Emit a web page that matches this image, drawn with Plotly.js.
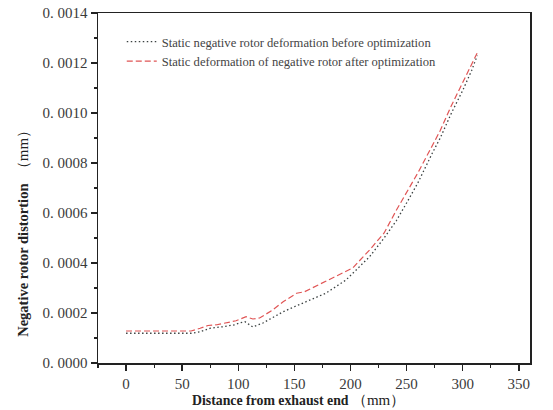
<!DOCTYPE html>
<html>
<head>
<meta charset="utf-8">
<script src="https://cdn.plot.ly/plotly-3.0.1.min.js"></script>
<style>html,body{margin:0;padding:0;background:#fff;}#chart{width:553px;height:410px;}</style>
</head>
<body>
<div id="chart"></div>
<script>
// Before optimization (dotted black)
const xBefore = [0, 10, 20, 30, 40, 50, 58, 66, 75, 86, 97, 101, 106, 113, 122, 130, 140, 150, 161, 178, 196, 217, 230, 241, 250, 260, 273, 280, 290, 300, 308, 313];
const yBefore = [0.000119, 0.000119, 0.000119, 0.000119, 0.000119, 0.000119, 0.000119, 0.000125, 0.000139, 0.000145, 0.000153, 0.00016, 0.000165, 0.000144, 0.00016, 0.00018, 0.000205, 0.000225, 0.000245, 0.000279, 0.000332, 0.000425, 0.0005, 0.00057, 0.00064, 0.00072, 0.00084, 0.0009, 0.001, 0.00109, 0.00117, 0.00123];
// After optimization (dashed red)
const xAfter = [0, 10, 20, 30, 40, 50, 58, 66, 73, 81, 90, 98, 107, 113, 119, 130, 140, 152, 159, 175, 190, 202, 217, 230, 241, 250, 260, 273, 280, 290, 300, 308, 314];
const yAfter = [0.000128, 0.000128, 0.000128, 0.000128, 0.000128, 0.000128, 0.000128, 0.000139, 0.00015, 0.000153, 0.000161, 0.000169, 0.000185, 0.000176, 0.00018, 0.00021, 0.000245, 0.000279, 0.000285, 0.00032, 0.000352, 0.00038, 0.000452, 0.00052, 0.000612, 0.00068, 0.00076, 0.00087, 0.00093, 0.00103, 0.00112, 0.00119, 0.00125];

const seriesNames = ["Static negative rotor deformation before optimization", "Static deformation of negative rotor after optimization"];
const xTickVals = [0, 50, 100, 150, 200, 250, 300, 350];
const yTickVals = [0, 0.0002, 0.0004, 0.0006, 0.0008, 0.0010, 0.0012, 0.0014];
const yTickText = ["0. 0000", "0. 0002", "0. 0004", "0. 0006", "0. 0008", "0. 0010", "0. 0012", "0. 0014"];
const unitText = "<span style='font-weight:normal;font-size:15px'>（mm）</span>";
const xTitle = "Distance from exhaust end " + unitText;
const yTitle = "Negative rotor distortion  " + unitText;

const serif = "Liberation Serif, DejaVu Serif, serif";
const traces = [
  {x: xBefore, y: yBefore, name: seriesNames[0], mode: "lines",
   line: {color: "#3c4242", width: 1.3, dash: "1.5px,2.5px"}},
  {x: xAfter, y: yAfter, name: seriesNames[1], mode: "lines",
   line: {color: "#e05555", width: 1.2, dash: "6px,3px"}}
];
const axisCommon = {
  showgrid: false, zeroline: false, showline: true, linecolor: "#222", linewidth: 1.5,
  mirror: true, ticks: "outside", ticklen: 6, tickwidth: 1.5, tickcolor: "#222",
  tickfont: {family: serif, size: 15, color: "#3a3a3a"}
};
const layout = {
  width: 553, height: 410,
  margin: {l: 98, r: 23, t: 13, b: 47},
  paper_bgcolor: "#fff", plot_bgcolor: "#fff",
  showlegend: true,
  legend: {x: 0.055, y: 0.96, xanchor: "left", yanchor: "top", bgcolor: "rgba(0,0,0,0)",
    font: {family: serif, size: 12.6, color: "#444"}, tracegroupgap: 0, itemwidth: 30},
  xaxis: Object.assign({}, axisCommon, {
    range: [-25, 360], tickvals: xTickVals,
    minor: {dtick: 25, tick0: 0, ticks: "outside", ticklen: 3, tickwidth: 1.2, tickcolor: "#222"}
  }),
  yaxis: Object.assign({}, axisCommon, {
    range: [0, 0.0014], tickvals: yTickVals, ticktext: yTickText,
    minor: {dtick: 0.0001, tick0: 0, ticks: "outside", ticklen: 3, tickwidth: 1.2, tickcolor: "#222"}
  }),
  annotations: [
    {text: xTitle, xref: "paper", yref: "paper", x: 0.464, y: -0.106, xanchor: "center", yanchor: "middle",
     showarrow: false, font: {family: serif, size: 13.8, color: "#222", weight: "bold"}},
    {text: yTitle, xref: "paper", yref: "paper", x: -0.174, y: 0.38, xanchor: "center", yanchor: "middle",
     textangle: -90, showarrow: false, font: {family: serif, size: 14.5, color: "#222", weight: "bold"}}
  ]
};
Plotly.newPlot("chart", traces, layout, {displayModeBar: false, staticPlot: true});
</script>
</body>
</html>
